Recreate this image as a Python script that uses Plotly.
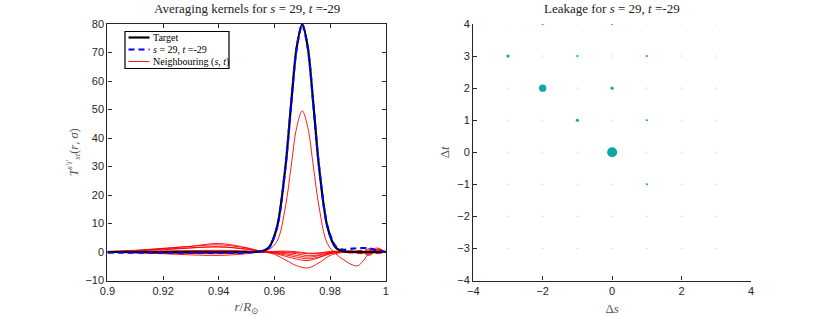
import plotly.graph_objects as go

# ---------------- data: left panel (averaging kernels) ----------------
r_target = [0.900, 0.950, 0.955, 0.958, 0.961, 0.964, 0.966, 0.968, 0.970,
            0.972, 0.974, 0.976, 0.979, 0.982, 0.985, 0.990, 1.000]
k_target = [0.0, 0.0, 0.2, 1.6, 9.0, 30.2, 51.9, 71.8, 80.0,
            71.8, 51.9, 30.2, 9.0, 1.6, 0.2, 0.0, 0.0]

r_kernel = [0.900, 0.920, 0.940, 0.950, 0.955, 0.958, 0.961, 0.964, 0.966, 0.968,
            0.970, 0.972, 0.974, 0.976, 0.979, 0.982, 0.985, 0.988, 0.991, 0.994,
            0.996, 0.998, 1.000]
k_kernel = [-0.2, -0.2, -0.3, -0.2, 0.2, 1.5, 8.8, 30.0, 51.7, 71.6,
            79.8, 71.6, 51.8, 30.3, 9.3, 2.0, 0.8, 1.2, 1.4, 1.3,
            0.8, 0.2, 0.0]

r_main_nb = [0.900, 0.920, 0.940, 0.950, 0.955, 0.958, 0.961, 0.964, 0.966, 0.968,
             0.970, 0.972, 0.974, 0.976, 0.979, 0.982, 0.985, 0.988, 0.990, 0.992,
             0.994, 0.997, 1.000]
k_main_nb = [0.2, 0.8, 1.8, 1.0, 0.3, 0.9, 3.9, 16.1, 30.0, 43.7,
             49.5, 43.7, 30.0, 16.1, 3.0, -0.6, -2.8, -4.5, -4.8, -3.0,
             -0.5, 0.6, 0.0]

r_nb = [0.900, 0.910, 0.920, 0.930, 0.940, 0.950, 0.955, 0.960, 0.964, 0.968,
        0.972, 0.976, 0.980, 0.984, 0.988, 0.991, 0.994, 0.997, 1.000]
k_nb2 = [0.0, 0.5, 1.2, 2.0, 3.0, 1.5, 0.3, -0.8, -2.8, -4.8, -5.6, -3.8, -1.2, -0.2, 0.2, 0.5, -0.3, 1.0, 0.0]
k_nb3 = [0.2, 0.6, 1.3, 2.0, 2.5, 1.4, 0.2, -0.5, -1.5, -2.5, -3.0, -2.0, -0.6, 0.0, 0.3, -0.4, 0.8, -0.6, 0.2]
k_nb4 = [0.1, 0.4, 1.0, 1.5, 1.8, 1.0, 0.1, -0.3, -1.0, -1.8, -2.4, -1.8, -0.5, 0.1, -0.2, 0.6, -0.8, 0.9, 0.0]
k_nb5 = [0.0, 0.2, 0.4, 0.5, 0.6, 0.4, 0.0, -0.2, -0.6, -1.2, -1.8, -1.3, -0.3, 0.2, 0.3, -0.5, 1.2, -0.4, 0.3]
k_nb6 = [-0.1, -0.3, -0.6, -1.0, -1.2, -0.6, 0.0, 0.1, -0.2, -0.6, -1.3, -1.0, -0.2, 0.1, -0.4, 0.3, -1.2, 0.5, -0.2]
k_nb7 = [0.0, -0.2, -0.4, -0.5, -0.6, -0.3, 0.0, 0.2, 0.3, 0.1, -0.4, -0.3, 0.2, 0.3, 0.0, -0.6, 0.4, 1.4, 0.0]
k_nb8 = [0.1, 0.1, 0.2, 0.3, 0.4, 0.2, 0.0, 0.1, 0.0, -0.2, -0.6, -0.5, 0.0, 0.2, 0.4, 0.0, -0.4, 0.0, 0.4]

x_ticks_left = [0.9, 0.92, 0.94, 0.96, 0.98, 1.0]
x_ticklabels_left = ["0.9", "0.92", "0.94", "0.96", "0.98", "1"]
y_ticks_left = [-10, 0, 10, 20, 30, 40, 50, 60, 70, 80]

legend_labels = ["Target", "<i>s</i> = 29, <i>t</i> =-29", "Neighbouring (<i>s</i>, <i>t</i>)"]

# ---------------- data: right panel (leakage) ----------------
leak_ds = [0, -2, -3, -1, 0, -2, 0, -1, 1, 1, 1]
leak_dt = [0, 2, 3, 1, 2, 4, 4, 3, 3, 1, -1]
leak_val = [1.0, 0.54, 0.10, 0.10, 0.10, 0.045, 0.045, 0.045, 0.045, 0.045, 0.045]

grid_ds = [-3, -2, -1, 0, 1, 2, 3]
grid_dt = [-3, -2, -1, 0, 1, 2, 3, 4]
lr_ticks = [-4, -2, 0, 2, 4]
lr_yticks = [-4, -3, -2, -1, 0, 1, 2, 3, 4]

# ---------------- styling ----------------
AX = "#262626"
TEAL = "#0fa6a6"
SERIF = "Liberation Serif, DejaVu Serif, serif"
SANS = "Liberation Sans, Arial, sans-serif"
W, H = 830, 316

fig = go.Figure()

nb_sets = [(r_main_nb, k_main_nb), (r_nb, k_nb2), (r_nb, k_nb3), (r_nb, k_nb4),
           (r_nb, k_nb5), (r_nb, k_nb6), (r_nb, k_nb7), (r_nb, k_nb8)]
for i, (rr, kk) in enumerate(nb_sets):
    fig.add_trace(go.Scatter(
        x=rr, y=kk, mode="lines", line=dict(color="#ff0000", width=0.9, shape="spline", smoothing=1.0),
        name=legend_labels[2], showlegend=False, xaxis="x", yaxis="y"))

fig.add_trace(go.Scatter(
    x=r_target, y=k_target, mode="lines", line=dict(color="black", width=2.2, shape="spline", smoothing=0.8),
    name=legend_labels[0], showlegend=False, xaxis="x", yaxis="y"))
fig.add_trace(go.Scatter(
    x=r_kernel, y=k_kernel, mode="lines",
    line=dict(color="#0000ff", width=2.2, dash="6px,4px", shape="spline", smoothing=0.8),
    name=legend_labels[1], showlegend=False, xaxis="x", yaxis="y"))

# right panel: faint grid of near-zero leakage, then significant leakage
gx = [d for t in grid_dt for d in grid_ds]
gy = [t for t in grid_dt for d in grid_ds]
fig.add_trace(go.Scatter(x=gx, y=gy, mode="markers",
                         marker=dict(color="#d8d8d8", size=1.6, opacity=1, line=dict(width=0)),
                         showlegend=False, xaxis="x2", yaxis="y2", hoverinfo="skip"))
fig.add_trace(go.Scatter(x=leak_ds, y=leak_dt, mode="markers",
                         marker=dict(color=TEAL, size=[10 * v ** 0.5 for v in leak_val], opacity=1,
                                     line=dict(width=0)),
                         showlegend=False, xaxis="x2", yaxis="y2"))

axis_common = dict(showgrid=False, zeroline=False, showline=True, linecolor=AX, linewidth=1.4,
                   ticks="inside", ticklen=4, tickcolor=AX, tickwidth=1.2, automargin=False,
                   tickfont=dict(family=SANS, size=11, color=AX))

# ----- manual legend box (paper coords from pixel layout) -----
def px(x):
    return x / W

def py(y):
    return 1 - y / H

leg_left, leg_right, leg_top, leg_bot = 125, 229, 31.5, 68.5
rows_y = [37.5, 49.5, 61.5]
line_styles = [dict(color="black", width=2.2), dict(color="#0000ff", width=2.2, dash="6px,4px"),
               dict(color="#ff0000", width=0.9)]
shapes = [dict(type="rect", xref="paper", yref="paper", x0=px(leg_left), x1=px(leg_right),
               y0=py(leg_bot), y1=py(leg_top), line=dict(color="black", width=1.2), fillcolor="white",
               layer="above")]
annotations = []
for ry, ls, lab in zip(rows_y, line_styles, legend_labels):
    shapes.append(dict(type="line", xref="paper", yref="paper", x0=px(128.5), x1=px(149.5),
                       y0=py(ry), y1=py(ry), line=ls, layer="above"))
    annotations.append(dict(text=lab, xref="paper", yref="paper", x=px(150.5), y=py(ry),
                            xanchor="left", yanchor="middle", showarrow=False,
                            font=dict(family=SERIF, size=10, color="black")))

annotations += [
    dict(text="Averaging kernels for <i>s</i> = 29, <i>t</i> =-29", xref="paper", yref="paper",
         x=0.2971, y=py(18), xanchor="center", yanchor="bottom", showarrow=False,
         font=dict(family=SERIF, size=13, color="#222222")),
    dict(text="Leakage for <i>s</i> = 29, <i>t</i> =-29", xref="paper", yref="paper",
         x=0.7375, y=py(18), xanchor="center", yanchor="bottom", showarrow=False,
         font=dict(family=SERIF, size=13, color="#222222")),
]

fig.update_layout(
    width=W, height=H, margin=dict(l=0, r=0, t=0, b=0),
    paper_bgcolor="white", plot_bgcolor="white",
    showlegend=False,
    xaxis=dict(domain=[0.1295, 0.4647], range=[0.9, 1.0], tickvals=x_ticks_left,
               ticktext=x_ticklabels_left, mirror="ticks", anchor="y",
               title=dict(text="<i>r</i>/<i>R</i><sub>⊙</sub>", font=dict(family=SERIF, size=13, color="#555555"),
                          standoff=6),
               **axis_common),
    yaxis=dict(domain=[0.1123, 0.924], range=[-10, 80], tickvals=y_ticks_left, mirror="ticks", anchor="x",
               title=dict(text="<i>T</i><sup><i>s′t′</i></sup><sub><i>st</i></sub>(<i>r</i>, <i>σ</i>)",
                          font=dict(family=SERIF, size=12.5, color="#555555"), standoff=4),
               **axis_common),
    xaxis2=dict(domain=[0.5702, 0.9048], range=[-4, 4], tickvals=lr_ticks, anchor="y2",
                title=dict(text="Δ<i>s</i>", font=dict(family=SERIF, size=13, color="#555555"), standoff=8),
                **axis_common),
    yaxis2=dict(domain=[0.1123, 0.924], range=[-4, 4], tickvals=lr_yticks, anchor="x2",
                title=dict(text="Δ<i>t</i>", font=dict(family=SERIF, size=13, color="#555555"), standoff=4),
                **axis_common),
    shapes=shapes,
    annotations=annotations,
)

fig.write_html("out.html", config={"displayModeBar": False},
               post_script="document.body.style.margin='0';")
